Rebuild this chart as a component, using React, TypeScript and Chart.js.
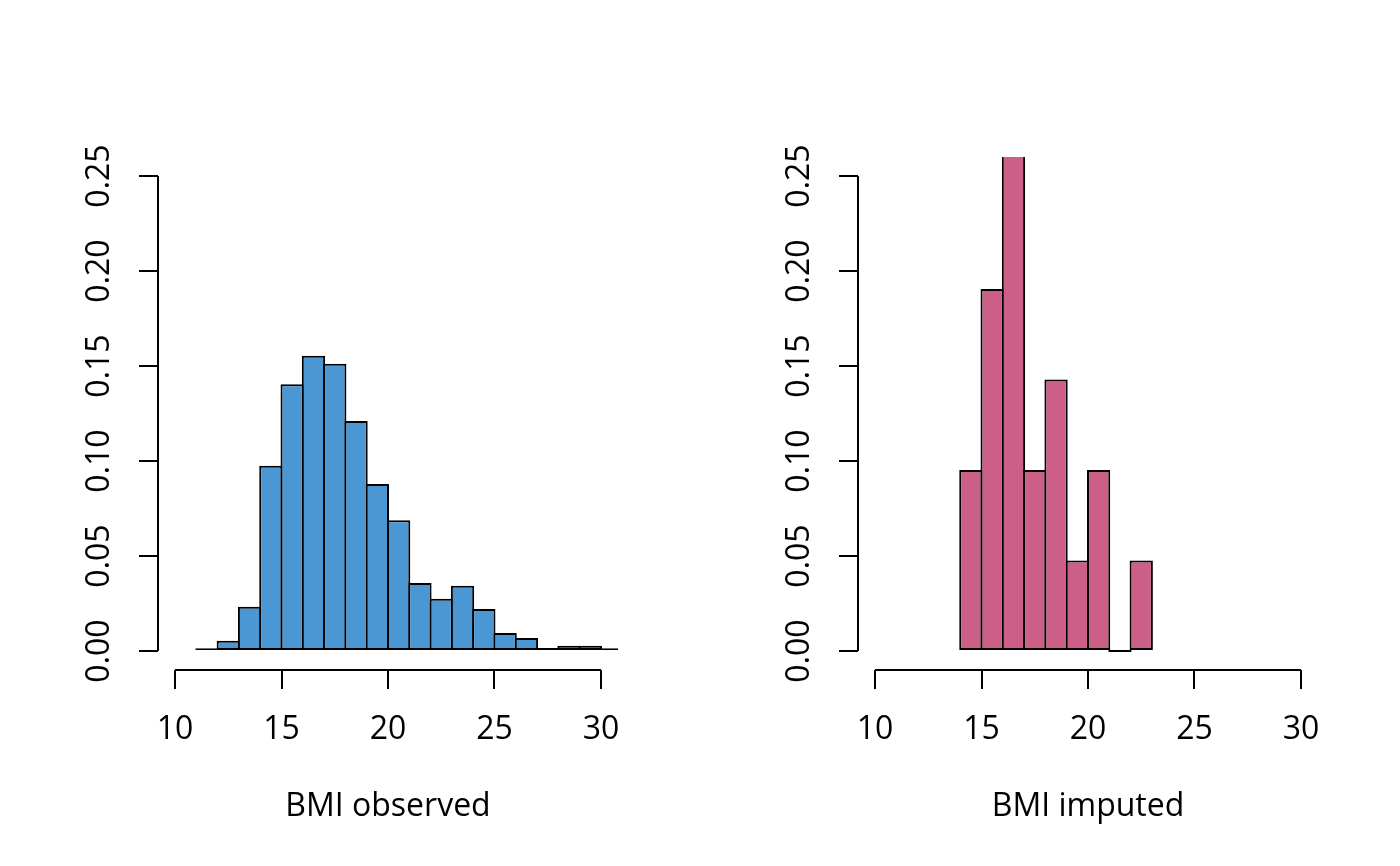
import React, { useEffect, useRef } from 'react';
import { Chart, registerables } from 'chart.js';

Chart.register(...registerables);

// histogram bin left edges (width 1) and densities
const observedBins = [11, 12, 13, 14, 15, 16, 17, 18, 19, 20, 21, 22, 23, 24, 25, 26, 27, 28, 29, 30];
const observedDensity = [
  0.0014, 0.0054, 0.0233, 0.0975, 0.1404, 0.1554, 0.1512, 0.1211, 0.0879, 0.0688,
  0.0358, 0.0275, 0.0344, 0.0221, 0.0095, 0.0068, 0.0016, 0.0028, 0.0028, 0.0014
];

const imputedBins = [14, 15, 16, 17, 18, 19, 20, 21, 22];
const imputedDensity = [0.0952, 0.1905, 0.2857, 0.0952, 0.1429, 0.0476, 0.0952, 0, 0.0476];

const xTicks = [10, 15, 20, 25, 30];
const yTicks = [0, 0.05, 0.1, 0.15, 0.2, 0.25];

const FONT = '"Open Sans", "Noto Sans", sans-serif';

// R-style detached axis lines that only span the tick range
const axisLines = {
  id: 'axisLines',
  afterDraw(chart: Chart) {
    const { ctx, chartArea } = chart;
    const x = chart.scales.x;
    const y = chart.scales.y;
    ctx.save();
    ctx.strokeStyle = '#000';
    ctx.lineWidth = 2;
    ctx.beginPath();
    ctx.moveTo(x.getPixelForValue(xTicks[0]), chartArea.bottom);
    ctx.lineTo(x.getPixelForValue(xTicks[xTicks.length - 1]), chartArea.bottom);
    ctx.moveTo(chartArea.left, y.getPixelForValue(yTicks[0]));
    ctx.lineTo(chartArea.left, y.getPixelForValue(yTicks[yTicks.length - 1]));
    ctx.stroke();
    ctx.restore();
  }
};

interface HistProps {
  bins: number[];
  density: number[];
  color: string;
  title: string;
}

const Histogram: React.FC<HistProps> = ({ bins, density, color, title }) => {
  const canvasRef = useRef<HTMLCanvasElement | null>(null);

  useEffect(() => {
    if (!canvasRef.current) return;
    const chart = new Chart(canvasRef.current, {
      type: 'bar',
      data: {
        datasets: [
          {
            data: bins.map((b, i) => ({ x: b + 0.5, y: density[i] })),
            backgroundColor: color,
            borderColor: '#000',
            borderWidth: 2,
            borderSkipped: false,
            // a touch wider than the bin so the 2px outlines sit centred on the bin edges
            barPercentage: 1.094,
            categoryPercentage: 1,
            minBarLength: 2,
            clip: 0
          }
        ]
      },
      options: {
        responsive: false,
        animation: false,
        layout: { padding: { top: 157, right: 82, left: 0, bottom: 0 } },
        plugins: {
          legend: { display: false },
          tooltip: { enabled: false }
        },
        scales: {
          x: {
            type: 'linear',
            min: 9.2,
            max: 30.8,
            offset: false,
            afterBuildTicks: (scale) => {
              scale.ticks = xTicks.map((v) => ({ value: v }));
            },
            afterFit: (scale) => {
              scale.height = 196;
            },
            border: { display: false },
            grid: {
              display: true,
              offset: false,
              drawOnChartArea: false,
              drawTicks: true,
              tickLength: 19,
              color: '#000',
              lineWidth: 2
            },
            ticks: {
              color: '#000',
              font: { family: FONT, size: 32 },
              padding: 22,
              maxRotation: 0,
              autoSkip: false,
              callback: (v) => String(v)
            },
            title: {
              display: true,
              text: title,
              color: '#000',
              font: { family: FONT, size: 32 },
              padding: { bottom: 40 }
            }
          },
          y: {
            type: 'linear',
            min: -0.01,
            max: 0.26,
            afterBuildTicks: (scale) => {
              scale.ticks = yTicks.map((v) => ({ value: v }));
            },
            afterFit: (scale) => {
              scale.width = 158;
            },
            border: { display: false },
            grid: {
              display: true,
              drawOnChartArea: false,
              drawTicks: true,
              tickLength: 19,
              color: '#000',
              lineWidth: 2
            },
            ticks: {
              color: '#000',
              font: { family: FONT, size: 32 },
              padding: 7,
              minRotation: 90,
              maxRotation: 90,
              crossAlign: 'center',
              autoSkip: false,
              callback: (v) => Number(v).toFixed(2)
            }
          }
        }
      },
      plugins: [axisLines]
    });
    return () => chart.destroy();
  }, [bins, density, color, title]);

  return <canvas ref={canvasRef} width={700} height={866} />;
};

export default function App() {
  return (
    <div
      style={{
        position: 'absolute',
        left: 0,
        top: 0,
        width: 1400,
        height: 866,
        display: 'flex',
        background: '#fff'
      }}
    >
      <Histogram bins={observedBins} density={observedDensity} color="#4A97D4" title="BMI observed" />
      <Histogram bins={imputedBins} density={imputedDensity} color="#CC5F87" title="BMI imputed" />
    </div>
  );
}
